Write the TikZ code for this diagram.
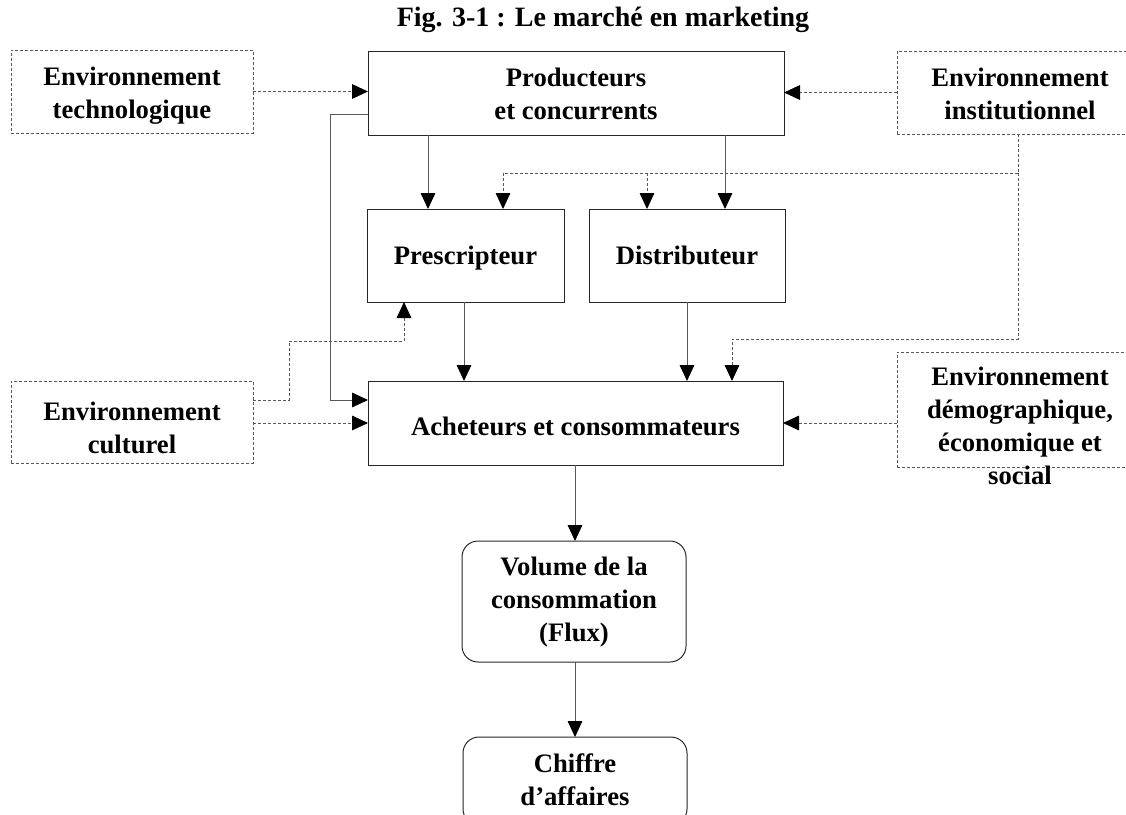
\documentclass[tikz,border=0pt]{standalone}
\usepackage{fontspec}
\setmainfont{Liberation Serif}
\usetikzlibrary{arrows.meta,fit}
\begin{document}
\begin{tikzpicture}[x=0.75pt,y=-0.75pt,
  every node/.style={font=\fontsize{20}{24.6}\selectfont\bfseries, align=center, inner sep=0pt, outer sep=0pt},
  box/.style={draw=black!85, line width=0.75pt, rectangle},
  envbox/.style={draw=black!65, line width=0.75pt, dash pattern=on 2.25pt off 1.5pt},
  rbox/.style={draw=black!85, line width=0.75pt, rounded corners=12pt},
  tip/.tip={Triangle[length=12pt,width=11pt,color=black]},
  link/.style={draw=black!65, line width=0.75pt, -tip},
  dlink/.style={draw=black!65, line width=0.75pt, dash pattern=on 2.25pt off 1.5pt, -tip},
  dline/.style={draw=black!65, line width=0.75pt, dash pattern=on 2.25pt off 1.5pt}]
\useasboundingbox (0,0) rectangle (1126,814);
\clip (0,0) rectangle (1126,814);

% title
\node[font=\fontsize{21}{25}\selectfont\bfseries] (title) at (603,20) {Fig. 3-1 : Le marché en marketing};

% boxes
\node[envbox, fit={(11,50) (253,133)}] (tech) {};
\node (techtxt) at (132,95.5) {Environnement\\technologique};
\node[box, fit={(368,51) (784,135)}] (prod) {};
\node (prodtxt) at (576,94) {Producteurs\\et concurrents};
\node[envbox, fit={(897,51) (1143,134)}] (inst) {};
\node (insttxt) at (1020,94) {Environnement\\institutionnel};
\node[box, fit={(367,209) (564,302)}] (presc) {};
\node (presctxt) at (465.5,258) {Prescripteur};
\node[box, fit={(589,209) (785,302)}] (distr) {};
\node (distrtxt) at (687,255.5) {Distributeur};
\node[box, fit={(368,381) (783,465)}] (achet) {};
\node (achettxt) at (575.5,426) {Acheteurs et consommateurs};
\node[envbox, fit={(11,381) (253,463)}] (cult) {};
\node (culttxt) at (132,428) {Environnement\\culturel};
\node[envbox, fit={(897,352) (1143,467)}] (demo) {};
\node (demotxt) at (1020,426) {Environnement\\démographique,\\économique et\\social};
\node[rbox, fit={(462,541) (686,662)}] (vol) {};
\node (voltxt) at (574,602) {Volume de la\\consommation\\(Flux)};
\node[rbox, fit={(463,737) (687,825)}] (chif) {};
\node (chiftxt) at (575,780) {Chiffre\\d’affaires};

% helper coordinates
\coordinate (c1) at (428,0);
\coordinate (c2) at (725,0);
\coordinate (j0) at (1018,173);
\coordinate (j1) at (503,173);
\coordinate (j2) at (647,173);
\coordinate (j3) at (1018,339);
\coordinate (j4) at (732,339);
\coordinate (p1) at (330,114);
\coordinate (p2) at (330,400);
\coordinate (k1) at (289,400);
\coordinate (k2) at (289,341);
\coordinate (k3) at (404,341);
\coordinate (yy) at (0,423);
\coordinate (c9) at (464,0);
\coordinate (c10) at (687,0);
\coordinate (cm) at (575,0);

% connectors
\draw[dlink] (tech.east) -- (tech.east -| prod.west);
\draw[dlink] (inst.west) -- (inst.west -| prod.east);
\draw[link] (prod.south -| c1) -- (presc.north -| c1);
\draw[link] (prod.south -| c2) -- (distr.north -| c2);
\draw[dline] (inst.south -| j0) -- (j0);
\draw[dlink] (j0) -- (j1) -- (presc.north -| j1);
\draw[dlink] (j2) -- (distr.north -| j2);
\draw[dlink] (j0) -- (j3) -- (j4) -- (achet.north -| j4);
\draw[link] (prod.west |- p1) -- (p1) -- (p2) -- (achet.west |- p2);
\draw[link] (presc.south -| c9) -- (achet.north -| c9);
\draw[link] (distr.south -| c10) -- (achet.north -| c10);
\draw[dlink] (cult.east |- k1) -- (k1) -- (k2) -- (k3) -- (presc.south -| k3);
\draw[dlink] (cult.east |- yy) -- (achet.west |- yy);
\draw[dlink] (demo.west |- yy) -- (achet.east |- yy);
\draw[link] (achet.south -| cm) -- (vol.north -| cm);
\draw[link] (vol.south -| cm) -- (chif.north -| cm);
\end{tikzpicture}
\end{document}
